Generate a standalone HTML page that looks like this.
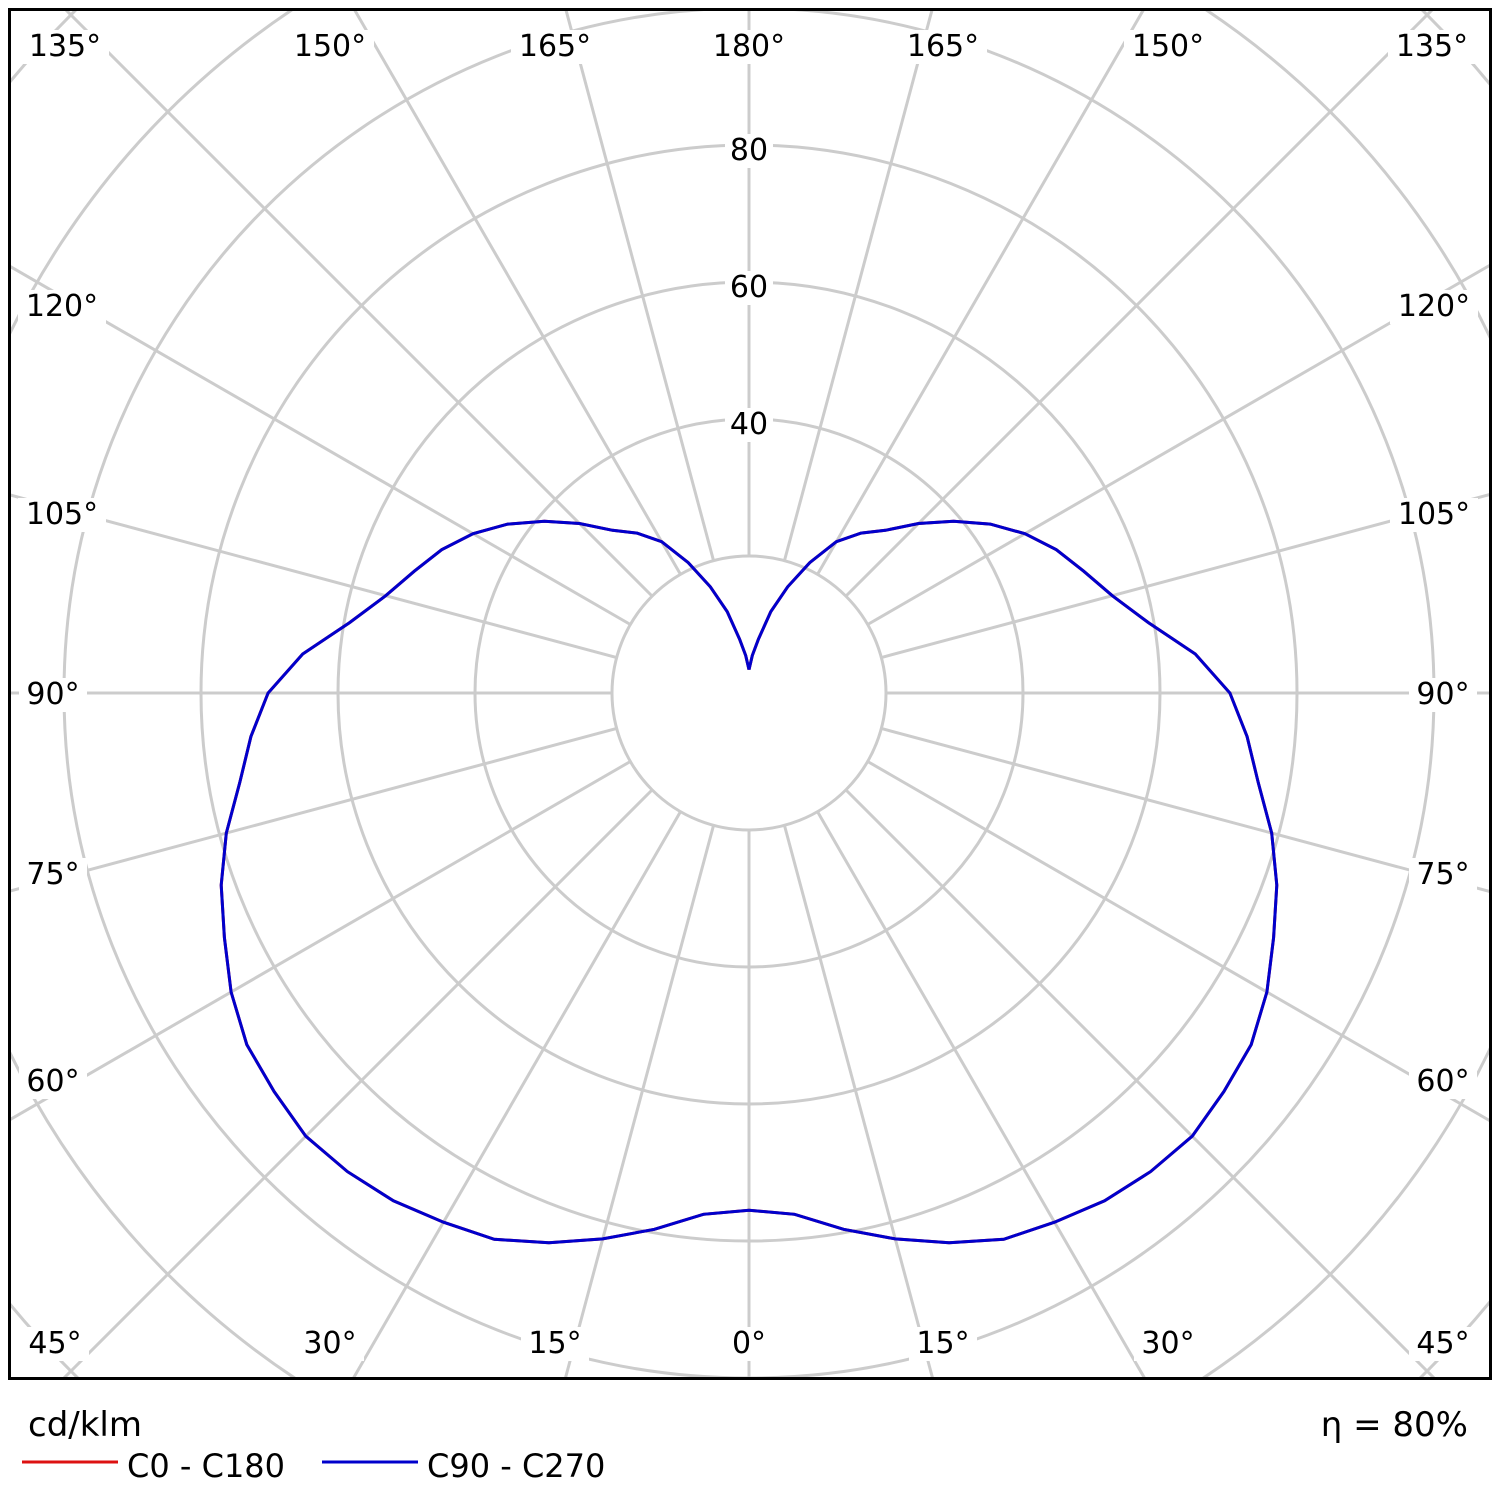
<!DOCTYPE html>
<html><head><meta charset="utf-8"><style>
html,body{margin:0;padding:0;background:#fff;overflow:hidden;width:1500px;height:1500px;}
svg{display:block;font-family:"DejaVu Sans","Liberation Sans",sans-serif;}
</style></head><body>
<svg id="chart" width="1500" height="1500" viewBox="0 0 1500 1500">
<defs><clipPath id="clip"><rect x="10" y="10" width="1480" height="1368"/></clipPath></defs>
<rect x="0" y="0" width="1500" height="1500" fill="#fff"/>
<g id="grid" clip-path="url(#clip)"></g>
<g id="curves" clip-path="url(#clip)"></g>
<g id="labels"></g>
<rect x="9.5" y="9.5" width="1481" height="1369" fill="none" stroke="#000" stroke-width="3"/>
<text x="28" y="1436" font-size="34">cd/klm</text>
<text x="1468" y="1436" font-size="34" text-anchor="end">η = 80%</text>
<line x1="22" y1="1462" x2="118" y2="1462" stroke="#dd1111" stroke-width="3"/>
<text x="127" y="1477" font-size="32">C0 - C180</text>
<line x1="322" y1="1462" x2="418" y2="1462" stroke="#0000cc" stroke-width="3"/>
<text x="427" y="1477" font-size="32">C90 - C270</text>
</svg>
<script>
const gammaDeg = [0,5,10,15,20,25,30,35,40,45,50,55,60,65,70,75,80,85,90,95,100,105,110,115,120,125,130,135,140,145,150,155,160,165,170,175,180];
const c90Values = [75.5,76.4,79.5,82.5,85.4,88,89.2,90.5,91.2,91.5,90.5,89.5,87.3,84.5,82,79,75.5,73,70.2,65.4,59.2,54.9,52,49.5,46.5,43,39,35,31,28.5,25.5,21,16.5,12.3,8,5.5,3.4];
const c0Values = c90Values.slice();
const ringValues = [20,40,60,80,100,120,140];
const ringLabels = ["40","60","80"];
const ringLabelValues = [40,60,80];

const NS="http://www.w3.org/2000/svg";
const cx=749, cy=693, pxPerUnit=137/20;
const rScale=v=>v*pxPerUnit;
function pt(g,v,side){const a=g*Math.PI/180;const r=rScale(v);return [cx+side*r*Math.sin(a), cy+r*Math.cos(a)];}
const grid=document.getElementById('grid');
ringValues.forEach(v=>{
  const c=document.createElementNS(NS,'circle');
  c.setAttribute('cx',cx);c.setAttribute('cy',cy);c.setAttribute('r',rScale(v));
  c.setAttribute('fill','none');c.setAttribute('stroke','#cccccc');c.setAttribute('stroke-width','3');
  
  
  grid.appendChild(c);
});
for(let a=0;a<360;a+=15){
  const t=a*Math.PI/180, r0=rScale(20), r1=1100;
  const l=document.createElementNS(NS,'line');
  l.setAttribute('x1',cx+r0*Math.sin(t));l.setAttribute('y1',cy+r0*Math.cos(t));
  l.setAttribute('x2',cx+r1*Math.sin(t));l.setAttribute('y2',cy+r1*Math.cos(t));
  l.setAttribute('stroke','#cccccc');l.setAttribute('stroke-width','3');
  
  
  grid.appendChild(l);
}
const curves=document.getElementById('curves');
function drawCurve(vals,color,name){
  const pts=[];
  for(let i=vals.length-1;i>=0;i--)pts.push(pt(gammaDeg[i],vals[i],-1));
  for(let i=1;i<vals.length;i++)pts.push(pt(gammaDeg[i],vals[i],1));
  const p=document.createElementNS(NS,'polyline');
  p.setAttribute('points',pts.map(q=>q[0].toFixed(1)+','+q[1].toFixed(1)).join(' '));
  p.setAttribute('fill','none');p.setAttribute('stroke',color);p.setAttribute('stroke-width','3');
  
  
  curves.appendChild(p);
}
drawCurve(c0Values,'#dd1111','curve-c0-c180');
drawCurve(c90Values,'#0000cc','curve-c90-c270');
const labels=document.getElementById('labels');
function addText(x,y,s,name,bg){
  if(bg){
    const r=document.createElementNS(NS,'rect');
    r.setAttribute('x',x-s.length*10-4);r.setAttribute('y',y-26);r.setAttribute('width',s.length*20+8);r.setAttribute('height',34);
    r.setAttribute('fill','#fff');
    
    
    labels.appendChild(r);
  }
  const t=document.createElementNS(NS,'text');
  t.setAttribute('x',x);t.setAttribute('y',y);t.setAttribute('font-size','30');t.setAttribute('text-anchor','middle');
  t.textContent=s;
  
  
  labels.appendChild(t);
}
ringLabelValues.forEach((v,i)=>addText(cx,cy-rScale(v)+15,ringLabels[i],'ring-label-'+v,true));
const angleLabels=[
 [65,56,"135°"],[330,56,"150°"],[555,56,"165°"],[749,56,"180°"],[943,56,"165°"],[1168,56,"150°"],[1432,56,"135°"],
 [62,316,"120°"],[62,524,"105°"],[53,704,"90°"],[53,884,"75°"],[53,1091,"60°"],
 [1434,316,"120°"],[1434,524,"105°"],[1443,704,"90°"],[1443,884,"75°"],[1443,1091,"60°"],
 [55,1353,"45°"],[330,1353,"30°"],[555,1353,"15°"],[749,1353,"0°"],[943,1353,"15°"],[1168,1353,"30°"],[1443,1353,"45°"]
];
angleLabels.forEach((a,i)=>addText(a[0],a[1],a[2],'angle-label-'+i,true));
</script>
</body></html>
